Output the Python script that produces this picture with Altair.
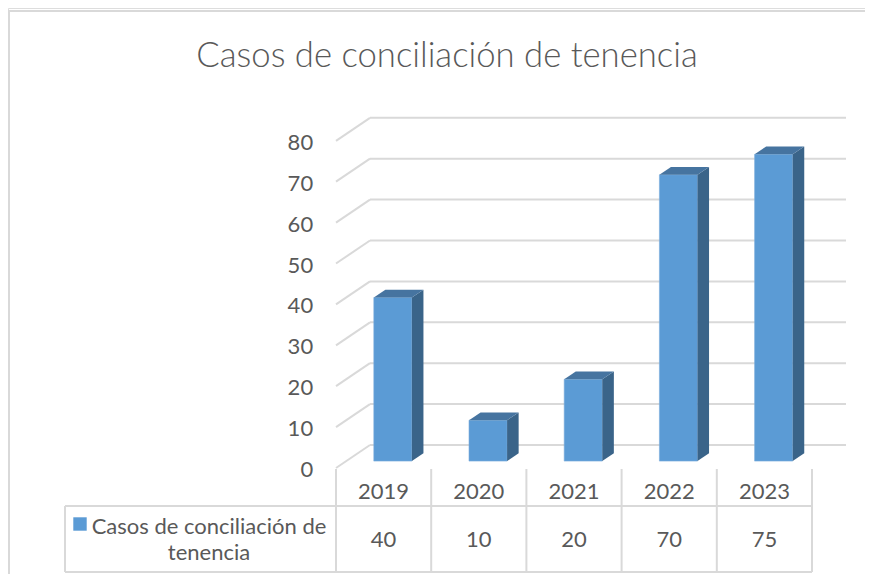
import altair as alt
import pandas as pd

# ---------------- data ----------------
years = ["2019", "2020", "2021", "2022", "2023"]
cases = [40, 10, 20, 70, 75]
series_name_l1 = "Casos de conciliación de"
series_name_l2 = "tenencia"
title_text = "Casos de conciliación de tenencia"
y_ticks = [0, 10, 20, 30, 40, 50, 60, 70, 80]

# ---------------- geometry (3D-look oblique projection) ----------------
W, H = 857, 566
SLOT = 95.2          # px per category slot
UNIT = 4.09          # px per value unit
X0, Y0 = 328, 460    # plot px of slot 0 / value 0 on front plane
C = 34 / SLOT        # x shift per unit depth (slot units)
K = 23 / UNIT        # y shift per unit depth (value units)
D0, D1 = 0.30, 0.64  # bar front / back depth
BL, BR = 0.29, 0.69  # bar left / right inside slot

xs = alt.Scale(domain=[-X0 / SLOT, (W - X0) / SLOT], nice=False, zero=False)
ys = alt.Scale(domain=[(Y0 - H) / UNIT, Y0 / UNIT], nice=False, zero=False)

FONT = "Lato"
TXT = "#595959"
GRID = "#D9D9D9"

bars = pd.DataFrame({"year": years, "cases": cases, "i": list(range(len(years)))})
bars_long = pd.DataFrame(
    [{"year": y, "cases": v, "i": i, "d": d}
     for i, (y, v) in enumerate(zip(years, cases)) for d in (D0, D1)]
)
ticks = pd.DataFrame({"v": y_ticks})
cols = pd.DataFrame({"c": list(range(len(years) + 1))})

# ---------------- gridlines (left wall diagonal + back wall) ----------------
grid_diag = alt.Chart(ticks).mark_rule(color=GRID, strokeWidth=2).transform_calculate(
    x1="0", x2=f"{C}", y2=f"datum.v + {K}"
).encode(
    x=alt.X("x1:Q", scale=xs, axis=None),
    x2="x2:Q",
    y=alt.Y("v:Q", scale=ys, axis=None),
    y2="y2:Q",
)
grid_back = alt.Chart(ticks).mark_rule(color=GRID, strokeWidth=2).transform_calculate(
    x1=f"{C}", x2=f"{len(years)} + {C}", yb=f"datum.v + {K}"
).encode(
    x=alt.X("x1:Q", scale=xs, axis=None),
    x2="x2:Q",
    y=alt.Y("yb:Q", scale=ys, axis=None),
)

# ---------------- bars ----------------
front = alt.Chart(bars).mark_rect(color="#5B9BD5", stroke="#7AADDC", strokeWidth=0.6).transform_calculate(
    xl=f"datum.i + {BL} + {D0 * C}",
    xr=f"datum.i + {BR} + {D0 * C}",
    yb=f"{D0 * K}",
    yt=f"datum.cases + {D0 * K}",
).encode(
    x=alt.X("xl:Q", scale=xs, axis=None),
    x2="xr:Q",
    y=alt.Y("yt:Q", scale=ys, axis=None),
    y2="yb:Q",
)
side = alt.Chart(bars_long).mark_area(color="#3A6489", orient="vertical").transform_calculate(
    sx=f"datum.i + {BR} + datum.d * {C}",
    top=f"datum.cases + datum.d * {K}",
    bot=f"datum.d * {K}",
).encode(
    x=alt.X("sx:Q", scale=xs, axis=None),
    y=alt.Y("top:Q", scale=ys, axis=None),
    y2="bot:Q",
    detail="year:N",
)
top = alt.Chart(bars_long).mark_area(color="#4674A0", orient="horizontal").transform_calculate(
    ty=f"datum.cases + datum.d * {K}",
    tx1=f"datum.i + {BL} + datum.d * {C}",
    tx2=f"datum.i + {BR} + datum.d * {C}",
).encode(
    y=alt.Y("ty:Q", scale=ys, axis=None),
    x=alt.X("tx1:Q", scale=xs, axis=None),
    x2="tx2:Q",
    detail="year:N",
)

# ---------------- value axis labels ----------------
ylabels = alt.Chart(ticks).mark_text(
    align="right", baseline="middle", dy=2, font=FONT, fontSize=22, color=TXT
).transform_calculate(lx="-0.24").encode(
    x=alt.X("lx:Q", scale=xs, axis=None),
    y=alt.Y("v:Q", scale=ys, axis=None),
    text="v:Q",
)

# ---------------- data table ----------------
LEFT = (57 - X0) / SLOT
tbl_v = alt.Chart(cols).mark_rule(color=GRID, strokeWidth=2).encode(
    x=alt.X("c:Q", scale=xs, axis=None), y=alt.value(461), y2=alt.value(564)
)
tbl_left = alt.Chart(pd.DataFrame({"c": [LEFT]})).mark_rule(color=GRID, strokeWidth=2).encode(
    x=alt.X("c:Q", scale=xs, axis=None), y=alt.value(498), y2=alt.value(564)
)
hl = pd.DataFrame({"a": [LEFT, LEFT], "b": [len(years), len(years)], "yy": [498, 564]})
tbl_h = alt.Chart(hl).mark_rule(color=GRID, strokeWidth=2).encode(
    x=alt.X("a:Q", scale=xs, axis=None), x2="b:Q", y=alt.Y("yy:Q", scale=None)
)
hdr = alt.Chart(bars).mark_text(baseline="middle", font=FONT, fontSize=22, color=TXT).transform_calculate(
    cx="datum.i + 0.5"
).encode(x=alt.X("cx:Q", scale=xs, axis=None), y=alt.value(484), text="year:N")
vals = alt.Chart(bars).mark_text(baseline="middle", font=FONT, fontSize=22, color=TXT).transform_calculate(
    cx="datum.i + 0.5"
).encode(x=alt.X("cx:Q", scale=xs, axis=None), y=alt.value(532), text="cases:Q")

leg_sq = alt.Chart(pd.DataFrame({"k": [series_name_l1]})).mark_square(
    color="#5B9BD5", size=180, opacity=1
).encode(x=alt.value(72), y=alt.value(516))
leg_txt = alt.Chart(pd.DataFrame({"t": [series_name_l1, series_name_l2], "yy": [519, 545]})).mark_text(
    baseline="middle", font=FONT, fontSize=22, color=TXT
).encode(x=alt.value(201), y=alt.Y("yy:Q", scale=None), text="t:N")

# ---------------- title & frame ----------------
title = alt.Chart(pd.DataFrame({"t": [title_text]})).mark_text(
    baseline="alphabetic", font=FONT, fontSize=34.7, fontWeight=300, color=TXT
).encode(x=alt.value(439), y=alt.value(59), text="t:N")
frame_top = alt.Chart(pd.DataFrame({"k": [0]})).mark_rule(color=GRID, strokeWidth=2).encode(
    x=alt.value(0), x2=alt.value(W), y=alt.value(3)
)
frame_left = alt.Chart(pd.DataFrame({"k": [0]})).mark_rule(color=GRID, strokeWidth=2).encode(
    x=alt.value(1), y=alt.value(3), y2=alt.value(H)
)

chart = alt.layer(
    frame_top, frame_left, title,
    grid_diag, grid_back,
    front, side, top,
    ylabels,
    tbl_v, tbl_left, tbl_h, hdr, vals, leg_sq, leg_txt,
).properties(
    width=W, height=H, padding=0, autosize=alt.AutoSizeParams(type="none")
).configure_view(stroke=None).configure(background="white")

chart.save("out.html", embed_options={"renderer": "svg", "actions": False})
